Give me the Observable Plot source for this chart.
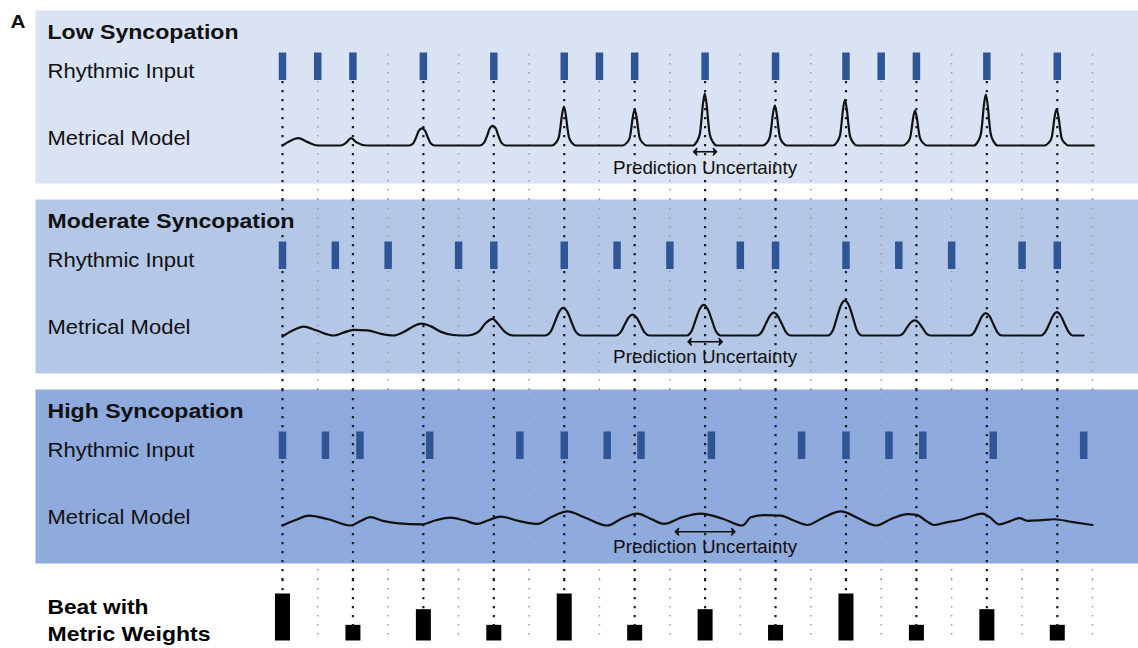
<!DOCTYPE html>
<html><head><meta charset="utf-8">
<script src="https://cdn.jsdelivr.net/npm/d3@7"></script>
<script src="https://cdn.jsdelivr.net/npm/@observablehq/plot@0.6"></script>
<style>
body{margin:0;background:#fff}
#fig{position:relative;width:1138px;height:648px;overflow:hidden;padding-top:10px;box-sizing:border-box;background:#fff}
#fig svg{display:block}
</style></head><body><div id="fig"></div>
<script>
// ---------------- data ----------------
const panelLetter = "A";
const panelTitles = ["Low Syncopation", "Moderate Syncopation", "High Syncopation"];
const rowLabels = ["Rhythmic Input", "Metrical Model"];
const uncertaintyLabel = "Prediction Uncertainty";
const bottomLabels = ["Beat with", "Metric Weights"];

// metrical grid (sixteenth-note steps) and beats
const gridSteps = [0,1,2,3,4,5,6,7,8,9,10,11,12,13,14,15,16,17,18,19,20,21,22,23];
const offGridSteps = [1,3,5,7,9,11,13,15,17,19,21,23];
const beatSteps = [0,2,4,6,8,10,12,14,16,18,20,22];
const metricWeights = [3,1,2,1,3,1,2,1,3,1,2,1];

// rhythmic input onsets (grid units)
const onsetsLow = [0,1,2,4,6,8,9,10,12,14,16,17,18,20,22];
const onsetsModerate = [0,1.5,3,5,6,8,9.5,11,13,14,16,17.5,19,21,22];
const onsetsHigh = [0,1.22,2.2,4.18,6.74,8,9.22,10.18,12.18,14.74,16,17.22,18.18,20.18,22.75];

// metrical model activation [grid position, activation]
const modelLow = [
  [0,0],[0.2,0.08],[0.45,0.14],[0.7,0.07],[1.0,0],[1.65,0],[1.8,0.05],[1.95,0.14],[2.1,0.06],[2.4,0],
  [3.59,0],[3.71,0.04],[3.79,0.15],[3.87,0.28],[3.96,0.33],[4.05,0.28],[4.13,0.15],[4.21,0.04],[4.33,0],
  [5.6,0],[5.72,0.05],[5.8,0.17],[5.88,0.32],[5.97,0.38],[6.06,0.32],[6.14,0.17],[6.22,0.05],[6.34,0],
  [7.65,0],[7.76,0.05],[7.85,0.17],[7.89,0.34],[7.93,0.56],[7.99,0.75],[8.05,0.56],[8.09,0.34],[8.13,0.17],[8.22,0.05],[8.33,0],
  [9.66,0],[9.77,0.05],[9.86,0.15],[9.9,0.31],[9.94,0.52],[10.0,0.69],[10.06,0.52],[10.1,0.31],[10.14,0.15],[10.23,0.05],[10.34,0],
  [11.65,0],[11.76,0.07],[11.85,0.22],[11.89,0.45],[11.93,0.75],[11.99,1.0],[12.05,0.75],[12.09,0.45],[12.13,0.22],[12.22,0.07],[12.33,0],
  [13.64,0],[13.75,0.05],[13.84,0.17],[13.88,0.35],[13.92,0.58],[13.98,0.77],[14.04,0.58],[14.08,0.35],[14.12,0.17],[14.21,0.05],[14.32,0],
  [15.63,0],[15.74,0.06],[15.83,0.19],[15.87,0.40],[15.91,0.66],[15.97,0.88],[16.03,0.66],[16.07,0.40],[16.11,0.19],[16.2,0.06],[16.31,0],
  [17.62,0],[17.73,0.05],[17.82,0.15],[17.86,0.30],[17.9,0.50],[17.96,0.67],[18.02,0.50],[18.06,0.30],[18.1,0.15],[18.19,0.05],[18.3,0],
  [19.63,0],[19.74,0.07],[19.83,0.22],[19.87,0.44],[19.91,0.74],[19.97,0.98],[20.03,0.74],[20.07,0.44],[20.11,0.22],[20.2,0.07],[20.31,0],
  [21.64,0],[21.75,0.05],[21.84,0.15],[21.88,0.32],[21.92,0.53],[21.98,0.70],[22.04,0.53],[22.08,0.32],[22.12,0.15],[22.21,0.05],[22.32,0],
  [23.04,0]
];
const modelModerate = [
  [0,-0.02],[0.3,0.1],[0.6,0.17],[0.95,0.1],[1.45,0],[1.75,0.06],[2.02,0.11],[2.41,0.1],[2.8,0.03],[3.15,0],
  [3.45,0.07],[3.7,0.17],[3.94,0.23],[4.2,0.18],[4.5,0.07],[4.85,0.01],[5.24,0],
  [5.58,0.08],[5.77,0.24],[5.97,0.32],[6.1,0.24],[6.3,0.08],[6.56,0],
  [7.45,0],[7.62,0.08],[7.74,0.27],[7.85,0.45],[7.97,0.53],[8.09,0.45],[8.2,0.27],[8.32,0.08],[8.5,0],
  [9.46,0],[9.6,0.06],[9.71,0.2],[9.82,0.34],[9.94,0.40],[10.06,0.34],[10.17,0.2],[10.28,0.06],[10.42,0],
  [11.48,0],[11.62,0.09],[11.73,0.3],[11.84,0.5],[11.96,0.59],[12.08,0.5],[12.19,0.3],[12.3,0.09],[12.44,0],
  [13.47,0],[13.61,0.07],[13.72,0.22],[13.83,0.37],[13.95,0.44],[14.07,0.37],[14.18,0.22],[14.29,0.07],[14.43,0],
  [15.49,0],[15.63,0.10],[15.74,0.34],[15.85,0.57],[15.97,0.67],[16.09,0.57],[16.2,0.34],[16.31,0.10],[16.45,0],
  [17.5,0],[17.62,0.04],[17.73,0.15],[17.84,0.25],[17.95,0.29],[18.06,0.25],[18.17,0.15],[18.28,0.04],[18.4,0],
  [19.52,0],[19.64,0.06],[19.75,0.21],[19.86,0.37],[19.97,0.43],[20.08,0.37],[20.19,0.21],[20.3,0.06],[20.42,0],
  [21.54,0],[21.66,0.07],[21.77,0.22],[21.88,0.38],[21.99,0.45],[22.1,0.38],[22.21,0.22],[22.32,0.07],[22.44,0],
  [22.75,0]
];
const modelHigh = [
  [0,0],[0.35,0.1],[0.75,0.19],[1.3,0.12],[1.93,0],[2.2,0.08],[2.5,0.16],[2.85,0.09],[3.3,0.04],[3.93,0.02],
  [4.35,0.1],[4.77,0.15],[5.15,0.1],[5.53,0.03],[5.85,0.1],[6.19,0.17],[6.7,0.09],[7.24,0.03],
  [7.65,0.17],[8.09,0.27],[8.6,0.15],[9.22,0],[9.65,0.14],[10.08,0.23],[10.45,0.13],[10.83,0.03],
  [11.35,0.16],[11.88,0.23],[12.5,0.13],[13.06,0],[13.3,0.16],[13.7,0.2],[14.15,0.19],[14.5,0.1],[14.9,0.01],
  [15.35,0.15],[15.85,0.27],[16.35,0.14],[16.85,0],[17.3,0.13],[17.75,0.22],[18.03,0.2],[18.25,0.1],[18.5,0.01],
  [18.85,0.06],[19.26,0.11],[19.88,0.23],[20.1,0.15],[20.35,0.02],[20.65,0.08],[20.92,0.14],[21.16,0.09],
  [21.5,0.1],[21.91,0.12],[22.4,0.07],[23.0,0.01]
];
const uncertaintyCenter = 12;
const uncertaintyHalfWidth = [0.28, 0.44, 0.8];

// ---------------- style / layout ----------------
const FONT = "Liberation Sans, Arial, Helvetica, sans-serif";
const panelFill = ["#dae3f3", "#b4c7e7", "#8faadc"];
const onsetColor = "#2f5597";
const W = 1138;
const X = {domain: [0, 23], range: [282, 1092], axis: null};
const textWidths = {
  "A": 15, "Low Syncopation": 191, "Moderate Syncopation": 247, "High Syncopation": 196,
  "Rhythmic Input": 147, "Metrical Model": 143, "Prediction Uncertainty": 184,
  "Beat with": 101, "Metric Weights": 163
};
function stretchText(svg) {
  svg.querySelectorAll("text").forEach(t => {
    const w = textWidths[t.textContent];
    if (w) { t.setAttribute("textLength", w); t.setAttribute("lengthAdjust", "spacingAndGlyphs"); }
  });
  svg.querySelectorAll("marker path").forEach(p => { p.setAttribute("fill", p.getAttribute("stroke") || "#111"); });
  return svg;
}
function gridRules(insetTop, insetBottom) {
  return [
    Plot.ruleX(offGridSteps, {x: d => d, stroke: "#9b9b9b", strokeWidth: 1.5, strokeDasharray: "1.5,7.5", insetTop, insetBottom}),
    Plot.ruleX(beatSteps, {x: d => d, stroke: "#1c1c1c", strokeWidth: 2.2, strokeDasharray: "2.2,6.8", insetTop, insetBottom})
  ];
}

function panel(i, onsets, model) {
  const height = i === 0 ? 189 : 190;
  const inner = height - 16;
  const base = i === 0 ? 135 : 136;
  const marks = [
    Plot.frame({fill: panelFill[i], stroke: "none"}),
    ...gridRules(i === 0 ? 44 : 0, -16),
    Plot.tickX(onsets, {x: d => d, stroke: onsetColor, strokeWidth: 7.5, insetTop: 42.5, insetBottom: inner - 70}),
    Plot.line(model, {x: d => d[0], y: d => d[1], curve: "monotone-x", stroke: "#111", strokeWidth: 2.2}),
    Plot.link([uncertaintyHalfWidth[i]], {
      x1: d => uncertaintyCenter - d, x2: d => uncertaintyCenter + d, y1: () => -0.12, y2: () => -0.12,
      stroke: "#111", strokeWidth: 1.6, markerStart: "arrow-reverse", markerEnd: "arrow"
    }),
    Plot.text([uncertaintyLabel], {x: () => uncertaintyCenter, frameAnchor: "top", dy: 163, lineAnchor: "bottom", fontSize: 19, fill: "#111", fontFamily: FONT}),
    Plot.text([panelTitles[i]], {frameAnchor: "top-left", dx: 12, dy: 28, lineAnchor: "bottom", textAnchor: "start", fontSize: 20.5, fontWeight: "bold", fill: "#111", fontFamily: FONT}),
    Plot.text([rowLabels[0]], {frameAnchor: "top-left", dx: 12, dy: 67, lineAnchor: "bottom", textAnchor: "start", fontSize: 21, fill: "#111", fontFamily: FONT}),
    Plot.text([rowLabels[1]], {frameAnchor: "top-left", dx: 12, dy: 134.5, lineAnchor: "bottom", textAnchor: "start", fontSize: 21, fill: "#111", fontFamily: FONT})
  ];
  if (i === 0) marks.push(Plot.text([panelLetter], {frameAnchor: "top-left", dx: -25, dy: 17, lineAnchor: "bottom", textAnchor: "start", fontSize: 17.5, fontWeight: "bold", fill: "#111", fontFamily: FONT}));
  return stretchText(Plot.plot({
    width: W, height, marginTop: 0, marginBottom: 16, marginLeft: 35, marginRight: 0,
    style: {fontFamily: FONT, background: "transparent", overflow: "visible"},
    x: X,
    y: {domain: [0, 1], range: [base, base - 52], axis: null},
    marks
  }));
}

function beatPanel() {
  const beats = beatSteps.map((b, k) => ({step: b, weight: metricWeights[k]}));
  return stretchText(Plot.plot({
    width: W, height: 69, marginTop: 0, marginBottom: 0, marginLeft: 35, marginRight: 0,
    style: {fontFamily: FONT, background: "transparent"},
    x: X,
    y: {domain: [0, 3], range: [61.5, 14.5], axis: null},
    marks: [
      ...gridRules(0, 7),
      Plot.ruleX(beats, {x: "step", y1: () => 0, y2: "weight", stroke: "#000", strokeWidth: 15}),
      Plot.text([bottomLabels[0]], {frameAnchor: "top-left", dx: 12, dy: 34, lineAnchor: "bottom", textAnchor: "start", fontSize: 20.5, fontWeight: "bold", fill: "#000", fontFamily: FONT}),
      Plot.text([bottomLabels[1]], {frameAnchor: "top-left", dx: 12, dy: 61, lineAnchor: "bottom", textAnchor: "start", fontSize: 20.5, fontWeight: "bold", fill: "#000", fontFamily: FONT})
    ]
  }));
}

const fig = document.getElementById("fig");
fig.append(panel(0, onsetsLow, modelLow));
fig.append(panel(1, onsetsModerate, modelModerate));
fig.append(panel(2, onsetsHigh, modelHigh));
fig.append(beatPanel());
</script></body></html>
